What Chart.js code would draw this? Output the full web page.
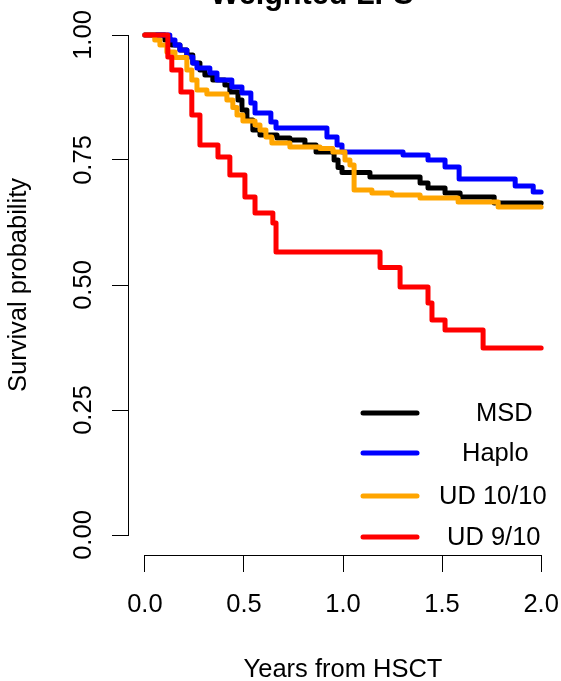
<!DOCTYPE html>
<html>
<head>
<meta charset="utf-8">
<script src="https://cdn.jsdelivr.net/npm/chart.js@4.4.1/dist/chart.umd.min.js"></script>
<style>
html,body{margin:0;padding:0;background:#fff;}
#wrap{width:561px;height:681px;position:relative;}
</style>
</head>
<body>
<div id="wrap"><canvas id="c" width="561" height="681"></canvas></div>
<script>
// ---- data ----
const chartTitle = "Weighted LFS";
const xTitle = "Years from HSCT";
const yTitle = "Survival probability";
const xTickValues = [0, 0.5, 1, 1.5, 2];
const yTickValues = [0, 0.25, 0.5, 0.75, 1];
const seriesNames = ["MSD", "Haplo", "UD 10/10", "UD 9/10"];
const seriesColors = ["#000000", "#0000FF", "#FFA500", "#FF0000"];

const msdTimes = [0, 0.101, 0.136, 0.177, 0.212, 0.242, 0.278, 0.303, 0.343, 0.404, 0.429, 0.47, 0.49, 0.515, 0.545, 0.581, 0.667, 0.732, 0.808, 0.864, 0.955, 0.975, 0.995, 1.136, 1.389, 1.429, 1.515, 1.591, 1.763, 2.0];
const msdSurv  = [1.0, 0.99, 0.98, 0.97, 0.96, 0.944, 0.93, 0.92, 0.91, 0.9, 0.886, 0.87, 0.85, 0.83, 0.81, 0.8, 0.794, 0.79, 0.78, 0.766, 0.75, 0.735, 0.725, 0.716, 0.704, 0.694, 0.684, 0.676, 0.664, 0.664];

const haploTimes = [0, 0.126, 0.152, 0.177, 0.212, 0.242, 0.263, 0.328, 0.364, 0.439, 0.49, 0.535, 0.556, 0.636, 0.662, 0.919, 0.97, 0.995, 1.303, 1.429, 1.515, 1.586, 1.869, 1.96, 2.0];
const haploSurv  = [1.0, 0.99, 0.98, 0.97, 0.956, 0.944, 0.934, 0.924, 0.91, 0.896, 0.884, 0.864, 0.844, 0.826, 0.814, 0.796, 0.78, 0.766, 0.76, 0.75, 0.736, 0.712, 0.698, 0.686, 0.686];

const ud10Times = [0, 0.05, 0.076, 0.111, 0.152, 0.212, 0.237, 0.263, 0.313, 0.414, 0.444, 0.465, 0.495, 0.556, 0.581, 0.611, 0.641, 0.732, 0.884, 0.949, 1.01, 1.035, 1.056, 1.146, 1.247, 1.389, 1.581, 1.783, 2.0];
const ud10Surv  = [1.0, 0.99, 0.98, 0.966, 0.955, 0.93, 0.91, 0.89, 0.882, 0.87, 0.855, 0.84, 0.828, 0.82, 0.81, 0.796, 0.784, 0.776, 0.773, 0.766, 0.75, 0.74, 0.69, 0.684, 0.68, 0.674, 0.666, 0.656, 0.656];

const ud9Times = [0, 0.116, 0.136, 0.182, 0.237, 0.278, 0.369, 0.429, 0.505, 0.556, 0.646, 0.662, 1.187, 1.288, 1.429, 1.449, 1.515, 1.707, 2.0];
const ud9Surv  = [1.0, 0.956, 0.93, 0.886, 0.84, 0.78, 0.756, 0.72, 0.676, 0.644, 0.624, 0.566, 0.535, 0.496, 0.464, 0.43, 0.41, 0.374, 0.374];

const allTimes = [msdTimes, haploTimes, ud10Times, ud9Times];
const allSurv = [msdSurv, haploSurv, ud10Surv, ud9Surv];

const FONT = "'Liberation Sans', Arial, sans-serif";
const FS = 25.5;

const datasets = seriesNames.map((name, i) => ({
  label: name,
  data: allTimes[i].map((t, k) => ({x: t, y: allSurv[i][k]})),
  borderColor: seriesColors[i],
  backgroundColor: seriesColors[i],
  borderWidth: 5,
  pointRadius: 0,
  stepped: 'before',
  fill: false,
  borderCapStyle: 'round',
  borderJoinStyle: 'round',
  order: seriesNames.length - i
}));

const decorPlugin = {
  id: 'decor',
  afterDraw(chart) {
    const ctx = chart.ctx;
    const xs = chart.scales.x, ys = chart.scales.y;
    const ca = chart.chartArea;
    ctx.save();
    ctx.strokeStyle = '#000';
    ctx.lineWidth = 1;
    // axis lines spanning only the tick range
    ctx.beginPath();
    ctx.moveTo(xs.getPixelForValue(xTickValues[0]), Math.round(ca.bottom) + 0.5);
    ctx.lineTo(xs.getPixelForValue(xTickValues[xTickValues.length - 1]), Math.round(ca.bottom) + 0.5);
    ctx.moveTo(Math.round(ca.left) - 0.5, ys.getPixelForValue(yTickValues[0]));
    ctx.lineTo(Math.round(ca.left) - 0.5, ys.getPixelForValue(yTickValues[yTickValues.length - 1]));
    ctx.stroke();

    ctx.fillStyle = '#000';
    // y tick labels, rotated
    ctx.font = FS + 'px ' + FONT;
    ctx.textAlign = 'center';
    ctx.textBaseline = 'alphabetic';
    yTickValues.forEach(v => {
      const py = ys.getPixelForValue(v);
      ctx.save();
      ctx.translate(91, py);
      ctx.rotate(-Math.PI / 2);
      ctx.fillText(v.toFixed(2), 0, 0);
      ctx.restore();
    });
    // y title
    ctx.save();
    ctx.translate(26, (ca.top + ca.bottom) / 2);
    ctx.rotate(-Math.PI / 2);
    ctx.fillText(yTitle, 0, 0);
    ctx.restore();
    // x title
    ctx.fillText(xTitle, (ca.left + ca.right) / 2, 677);
    // main title (mostly clipped at top)
    ctx.font = 'bold ' + (FS * 1.2) + 'px ' + FONT;
    ctx.fillText(chartTitle, 312, 4);

    // legend
    const legLineX0 = 363, legLineX1 = 417;
    const legY = [413, 453, 496, 537];
    const legTextX = [476, 462, 439, 447];
    ctx.font = FS + 'px ' + FONT;
    ctx.textAlign = 'left';
    ctx.textBaseline = 'middle';
    ctx.lineCap = 'round';
    seriesNames.forEach((name, i) => {
      ctx.strokeStyle = seriesColors[i];
      ctx.lineWidth = 5;
      ctx.beginPath();
      ctx.moveTo(legLineX0, legY[i]);
      ctx.lineTo(legLineX1, legY[i]);
      ctx.stroke();
      ctx.fillStyle = '#000';
      ctx.fillText(name, legTextX[i], legY[i] + 1);
    });
    ctx.restore();
  }
};

new Chart(document.getElementById('c'), {
  type: 'line',
  data: { datasets },
  options: {
    responsive: false,
    animation: false,
    devicePixelRatio: 1,
    layout: { padding: { left: 0, right: 4, top: 15, bottom: 0 } },
    plugins: { legend: { display: false }, tooltip: { enabled: false }, title: { display: false } },
    scales: {
      x: {
        type: 'linear',
        min: -0.08, max: 2.08,
        afterBuildTicks: s => { s.ticks = xTickValues.map(v => ({value: v})); },
        afterFit: s => { s.height = 126; s.paddingLeft = 0; s.paddingRight = 0; },
        grid: { drawOnChartArea: false, drawTicks: true, tickLength: 17, color: '#000', lineWidth: 1 },
        border: { display: false },
        ticks: {
          color: '#000', padding: 18, maxRotation: 0, autoSkip: false,
          font: { family: FONT, size: FS },
          callback: v => Number(v).toFixed(1)
        }
      },
      y: {
        type: 'linear',
        min: -0.04, max: 1.04,
        afterBuildTicks: s => { s.ticks = yTickValues.map(v => ({value: v})); },
        afterFit: s => { s.width = 129; s.paddingTop = 0; s.paddingBottom = 0; },
        grid: { drawOnChartArea: false, drawTicks: true, tickLength: 17, color: '#000', lineWidth: 1 },
        border: { display: false },
        ticks: { display: false }
      }
    }
  },
  plugins: [decorPlugin]
});
</script>
</body>
</html>
